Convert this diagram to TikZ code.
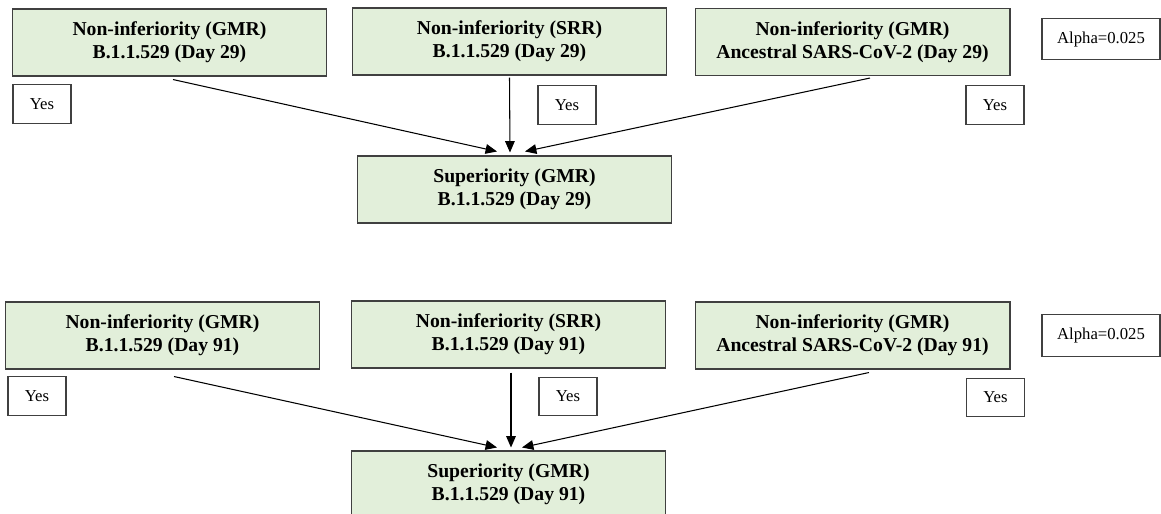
\documentclass[tikz,border=0pt]{standalone}
\usepackage{fontspec}
\setmainfont{Liberation Serif}
\usetikzlibrary{arrows.meta}
\definecolor{testgreen}{HTML}{E2EFDA}
\definecolor{boxgray}{HTML}{404040}

\begin{document}
\begin{tikzpicture}[x=0.02cm, y=-0.02cm, line width=0.6pt,
    test node/.style={rectangle,draw=boxgray,fill=testgreen,minimum width=6.3cm,minimum height=1.34cm,
                      inner sep=0pt,align=center,font=\fontsize{11.2}{13.1}\selectfont\bfseries},
    yes node/.style={rectangle,draw=boxgray,fill=white,minimum width=1.16cm,minimum height=0.77cm,
                     inner sep=0pt,font=\fontsize{9.5}{11}\selectfont},
    alpha node/.style={yes node,minimum width=2.36cm,minimum height=0.83cm},
    every edge/.style={draw,-{Triangle[length=6.5pt,width=5.5pt]}}]

  \useasboundingbox (0,0) rectangle (1161,514);
  \clip (0,0) rectangle (1161,514);

  % Day 29
  \node[test node] (g29) at (169.5,42.5) {Non-inferiority (GMR)\\B.1.1.529 (Day 29)};
  \node[test node] (s29) at (509.5,41.5) {Non-inferiority (SRR)\\B.1.1.529 (Day 29)};
  \node[test node] (a29) at (852.5,42) {Non-inferiority (GMR)\\Ancestral SARS-CoV-2 (Day 29)};
  \node[alpha node] (alpha29) at (1101,39) {Alpha=0.025};
  \node[yes node] (yg29) at (42,104) {Yes};
  \node[yes node] (ys29) at (567,105) {Yes};
  \node[yes node] (ya29) at (995,105) {Yes};
  \node[test node] (sup29) at (514.5,189.5) {Superiority (GMR)\\B.1.1.529 (Day 29)};

  \path
    ([xshift=0.07cm,yshift=-0.06cm]g29.south) edge ([xshift=-0.35cm,yshift=0.08cm]sup29.north)
    ([yshift=-0.04cm]s29.south) edge ([xshift=-0.09cm,yshift=0.06cm]sup29.north)
    ([xshift=0.35cm,yshift=-0.04cm]a29.south) edge ([xshift=0.21cm,yshift=0.08cm]sup29.north);

  % Day 91
  \node[test node] (g91) at (162.5,335.5) {Non-inferiority (GMR)\\B.1.1.529 (Day 91)};
  \node[test node] (s91) at (508.5,334.5) {Non-inferiority (SRR)\\B.1.1.529 (Day 91)};
  \node[test node] (a91) at (852.5,335.5) {Non-inferiority (GMR)\\Ancestral SARS-CoV-2 (Day 91)};
  \node[alpha node] (alpha91) at (1101,335.5) {Alpha=0.025};
  \node[yes node] (yg91) at (37,396) {Yes};
  \node[yes node] (ys91) at (568,396.5) {Yes};
  \node[yes node] (ya91) at (995.5,397.5) {Yes};
  \node[test node] (sup91) at (508.5,484.5) {Superiority (GMR)\\B.1.1.529 (Day 91)};

  \path
    ([xshift=0.23cm,yshift=-0.14cm]g91.south) edge ([xshift=-0.23cm,yshift=0.06cm]sup91.north)
    ([xshift=0.05cm,yshift=-0.08cm]s91.south) edge ([xshift=0.05cm,yshift=0.06cm]sup91.north)
    ([xshift=0.33cm,yshift=-0.06cm]a91.south) edge ([xshift=0.27cm,yshift=0.06cm]sup91.north);
\end{tikzpicture}
\end{document}
